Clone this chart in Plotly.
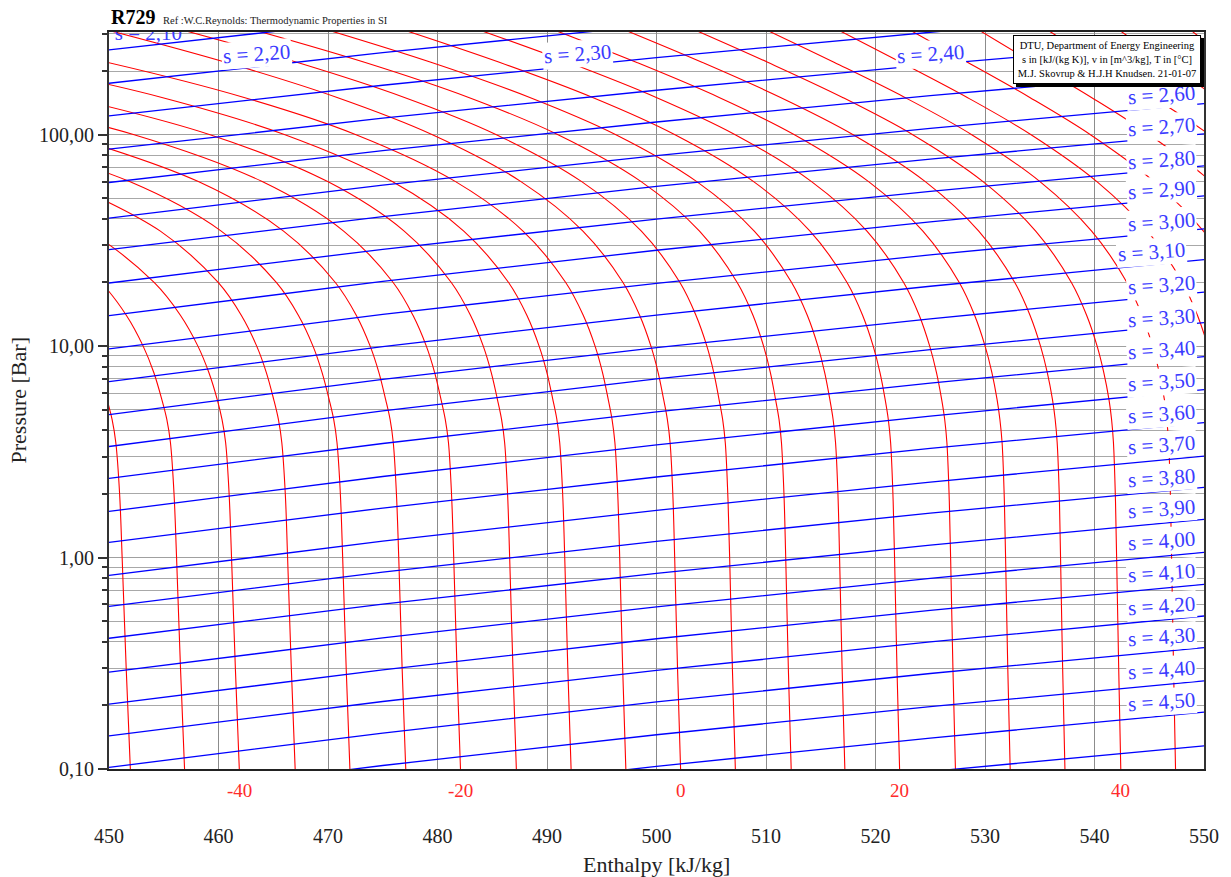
import math
import plotly.graph_objects as go

# ---------------- data ----------------
# Isotherms (red): enthalpy [kJ/kg] at each pressure level [bar]
P_levels = [0.1, 0.3, 1, 2, 3.5, 4.5, 5.6, 7.5, 10, 14, 20, 35, 60, 100, 150, 220, 320]
temps_C = [-50, -45, -40, -35, -30, -25, -20, -15, -10, -5, 0, 5, 10, 15,
           20, 25, 30, 35, 40, 45, 50, 55, 60, 65, 70, 75]
N = None
isotherm_h = [
    [451.95, 451.57, 451.20, 450.97, 450.62, 450.28, 449.81, 449.09, 448.14, N, N, N, N, N, N, N, N],
    [456.90, 456.53, 456.17, 455.94, 455.61, 455.28, 454.82, 454.09, 453.12, 451.58, 449.26, 443.47, N, N, N, N, N],
    [461.90, 461.54, 461.19, 460.97, 460.65, 460.32, 459.88, 459.12, 458.12, 456.52, 454.12, 448.12, 438.10, N, N, N, N],
    [467.00, 466.65, 466.31, 466.10, 465.78, 465.47, 465.04, 464.37, 463.49, 462.08, 459.97, 454.69, 445.89, N, N, N, N],
    [472.00, 471.66, 471.34, 471.13, 470.82, 470.52, 470.10, 469.46, 468.63, 467.29, 465.28, 460.25, 451.88, 438.48, N, N, N],
    [477.10, 476.77, 476.46, 476.25, 475.96, 475.67, 475.26, 474.65, 473.85, 472.58, 470.67, 465.94, 458.16, 445.97, N, N, N],
    [482.10, 481.78, 481.48, 481.28, 481.00, 480.71, 480.32, 479.74, 478.98, 477.76, 475.95, 471.43, 463.99, 452.30, 438.06, N, N],
    [487.20, 486.89, 486.59, 486.40, 486.13, 485.85, 485.47, 484.91, 484.18, 483.01, 481.26, 476.96, 469.97, 459.23, 446.52, N, N],
    [492.20, 491.90, 491.62, 491.43, 491.16, 490.90, 490.53, 489.99, 489.28, 488.16, 486.49, 482.40, 475.87, 466.07, 454.83, 440.73, N],
    [497.20, 496.91, 496.64, 496.46, 496.20, 495.94, 495.59, 495.07, 494.39, 493.31, 491.71, 487.81, 481.65, 472.56, 462.34, 449.83, 434.84],
    [502.20, 501.92, 501.66, 501.49, 501.24, 500.99, 500.65, 500.15, 499.49, 498.46, 496.94, 493.28, 487.62, 479.54, 470.83, 460.65, 449.11],
    [507.20, 506.93, 506.68, 506.51, 506.28, 506.04, 505.71, 505.23, 504.60, 503.60, 502.14, 498.62, 493.17, 485.38, 476.98, 467.15, 456.00],
    [512.30, 512.04, 511.80, 511.64, 511.41, 511.19, 510.87, 510.40, 509.78, 508.81, 507.37, 503.93, 498.60, 491.01, 482.85, 473.33, 462.58],
    [517.20, 516.95, 516.72, 516.57, 516.35, 516.13, 515.83, 515.36, 514.74, 513.77, 512.34, 508.93, 503.68, 496.29, 488.43, 479.40, 469.35],
    [522.20, 521.96, 521.74, 521.59, 521.38, 521.17, 520.88, 520.41, 519.79, 518.82, 517.40, 514.02, 508.87, 501.69, 494.17, 485.65, 476.35],
    [527.30, 527.07, 526.86, 526.72, 526.52, 526.32, 526.04, 525.57, 524.95, 523.99, 522.57, 519.22, 514.16, 507.19, 499.98, 491.94, 483.28],
    [532.30, 532.08, 531.88, 531.75, 531.56, 531.36, 531.10, 530.63, 530.01, 529.05, 527.65, 524.33, 519.37, 512.60, 505.72, 498.15, 490.15],
    [537.30, 537.09, 536.90, 536.78, 536.59, 536.41, 536.16, 535.69, 535.07, 534.11, 532.72, 529.43, 524.55, 517.96, 511.33, 504.15, 496.64],
    [542.40, 542.21, 542.02, 541.90, 541.73, 541.56, 541.32, 540.85, 540.24, 539.28, 537.89, 534.63, 529.82, 523.40, 517.00, 510.15, 503.07],
    [547.40, 547.22, 547.04, 546.93, 546.77, 546.60, 546.38, 545.91, 545.30, 544.34, 542.96, 539.74, 535.02, 528.79, 522.68, 516.21, 509.64],
    [552.40, 552.23, 552.06, 551.95, 551.80, 551.64, 551.43, 550.96, 550.35, 549.40, 548.02, 544.84, 540.22, 534.21, 528.38, 522.31, 516.23],
    [557.40, 557.24, 557.08, 556.98, 556.84, 556.69, 556.49, 556.02, 555.41, 554.46, 553.10, 549.95, 545.44, 539.63, 534.09, 528.40, 522.79],
    [562.40, 562.25, 562.10, 562.01, 561.87, 561.74, 561.55, 561.08, 560.47, 559.53, 558.17, 555.06, 550.64, 545.01, 539.72, 534.34, 529.11],
    [567.50, 567.36, 567.22, 567.14, 567.01, 566.88, 566.71, 566.24, 565.63, 564.69, 563.34, 560.27, 555.93, 550.48, 545.40, 540.32, 535.41],
    [572.50, 572.37, 572.24, 572.16, 572.05, 571.93, 571.77, 571.30, 570.69, 569.76, 568.42, 565.40, 561.17, 555.95, 551.17, 546.45, 541.97],
    [577.50, 577.38, 577.27, 577.19, 577.08, 576.98, 576.83, 576.36, 575.76, 574.83, 573.50, 570.53, 566.43, 561.44, 556.95, 552.59, 548.52],
]

# Isentropes (blue): pressure [bar] at each enthalpy level
h_levels = [450, 475, 500, 525, 550]
entropy_s = [2.10, 2.20, 2.30, 2.40, 2.50, 2.60, 2.70, 2.80, 2.90, 3.00, 3.10,
             3.20, 3.30, 3.40, 3.50, 3.60, 3.70, 3.80, 3.90, 4.00, 4.10, 4.20,
             4.30, 4.40, 4.50, 4.60]
isentrope_P = [
    [251.6, 351.3, 474.8, 625.8, 805.0],
    [175.1, 244.5, 330.6, 435.6, 560.8],
    [122.7, 171.3, 231.6, 305.2, 392.9],
    [85.4, 119.7, 162.3, 214.4, 276.5],
    [59.4, 84.0, 114.8, 152.9, 198.7],
    [40.3, 57.7, 79.7, 107.1, 140.4],
    [28.6, 41.0, 56.9, 76.7, 100.9],
    [19.89, 28.69, 39.9, 54.0, 71.2],
    [13.93, 20.26, 28.41, 38.73, 51.4],
    [9.70, 14.12, 19.82, 27.03, 35.89],
    [6.797, 9.95, 14.03, 19.20, 25.63],
    [4.747, 6.961, 9.83, 13.47, 17.99],
    [3.352, 4.936, 7.000, 9.636, 12.91],
    [2.366, 3.463, 4.883, 6.688, 8.921],
    [1.653, 2.418, 3.411, 4.670, 6.231],
    [1.180, 1.715, 2.405, 3.281, 4.351],
    [0.824, 1.195, 1.673, 2.276, 3.016],
    [0.5881, 0.8532, 1.193, 1.621, 2.146],
    [0.4152, 0.6024, 0.8423, 1.144, 1.515],
    [0.2870, 0.4171, 0.5851, 0.7977, 1.058],
    [0.2025, 0.2945, 0.4130, 0.5630, 0.7470],
    [0.1435, 0.2086, 0.2925, 0.3990, 0.5293],
    [0.1018, 0.1479, 0.2075, 0.2829, 0.3753],
    [0.07166, 0.1039, 0.1452, 0.1971, 0.2610],
    [0.05062, 0.07349, 0.1029, 0.1401, 0.1857],
    [0.03555, 0.05145, 0.07178, 0.09732, 0.1287],
]

# isentrope labels
right_label_s = [2.60, 2.70, 2.80, 2.90, 3.00, 3.10, 3.20, 3.30, 3.40, 3.50,
                 3.60, 3.70, 3.80, 3.90, 4.00, 4.10, 4.20, 4.30, 4.40, 4.50]
right_label_P = [154.2, 108.9, 76.0, 54.9, 38.73, 27.95, 19.52, 13.63, 9.627, 6.797,
                 4.799, 3.425, 2.366, 1.689, 1.193, 0.842, 0.588, 0.420, 0.2932, 0.2070]
right_label_h = [546.1, 546.1, 546.1, 546.1, 546.1, 545.2, 546.1, 546.1, 546.1, 546.1,
                 546.1, 546.1, 546.1, 546.1, 546.1, 546.1, 546.1, 546.1, 546.1, 546.1]
top_label_s = [2.20, 2.30, 2.40]
top_label_h = [463.45, 492.77, 525.05]
top_label_P = [240.9, 240.9, 240.9]
corner_label_s = [2.10]
corner_label_h = [453.6]
corner_label_P = [296.0]

# temperature labels under the axis
temp_label_T = [-40, -20, 0, 20, 40]

x_ticks = [450, 460, 470, 480, 490, 500, 510, 520, 530, 540, 550]
y_major = [0.1, 1, 10, 100]
y_major_text = ["0,10", "1,00", "10,00", "100,00"]
y_minor = [0.2, 0.3, 0.4, 0.5, 0.6, 0.7, 0.8, 0.9, 2, 3, 4, 5, 6, 7, 8, 9,
           20, 30, 40, 50, 60, 70, 80, 90, 200, 300]

# ---------------- figure ----------------
SERIF = "Liberation Serif, Times New Roman, serif"
RED = "#ff0000"
BLUE = "#0000ff"
LBLUE = "#3b3bff"

fig = go.Figure()
for T, row in zip(temps_C, isotherm_h):
    fig.add_trace(go.Scatter(x=row, y=P_levels, mode="lines",
                             line=dict(color=RED, width=1.1, shape="spline"),
                             hoverinfo="skip", showlegend=False))
for s, row in zip(entropy_s, isentrope_P):
    fig.add_trace(go.Scatter(x=h_levels, y=row, mode="lines",
                             line=dict(color=BLUE, width=1.3, shape="spline"),
                             hoverinfo="skip", showlegend=False))


def s_text(s):
    return ("s = %.2f" % s).replace(".", ",")


# corner label clipped by the plot frame
fig.add_trace(go.Scatter(x=corner_label_h, y=corner_label_P, mode="text",
                         text=[s_text(s) for s in corner_label_s],
                         textfont=dict(family=SERIF, size=21, color=LBLUE),
                         cliponaxis=True, hoverinfo="skip", showlegend=False))

ann = []
for s, h, p in zip(right_label_s, right_label_h, right_label_P):
    ann.append(dict(x=h, y=math.log10(p), xref="x", yref="y", text=s_text(s),
                    showarrow=False, font=dict(family=SERIF, size=21, color=LBLUE),
                    bgcolor="white", borderpad=1, textangle=-4))
for s, h, p in zip(top_label_s, top_label_h, top_label_P):
    ann.append(dict(x=h, y=math.log10(p), xref="x", yref="y", text=s_text(s),
                    showarrow=False, font=dict(family=SERIF, size=21, color=LBLUE),
                    bgcolor="white", borderpad=1, textangle=-4))

# temperature labels
for T in temp_label_T:
    h0 = isotherm_h[temps_C.index(T)][0]
    ann.append(dict(x=h0, y=0, xref="x", yref="paper", yshift=-21, text=str(T),
                    showarrow=False, font=dict(family=SERIF, size=19, color="#ff2a2a"),
                    yanchor="middle"))

# info box with a drop shadow
box_text = ("DTU, Department of Energy Engineering<br>"
            "s in [kJ/(kg K)], v in [m^3/kg], T in [°C]<br>"
            "M.J. Skovrup &amp; H.J.H Knudsen. 21-01-07")
ann.append(dict(x=0.9973, y=0.9953, xref="paper", yref="paper",
                xanchor="right", yanchor="top", text=" ", showarrow=False,
                width=184, height=45, bgcolor="black", bordercolor="black",
                borderwidth=1, borderpad=1, xshift=3, yshift=-3))
ann.append(dict(x=0.9973, y=0.9953, xref="paper", yref="paper",
                xanchor="right", yanchor="top", text=box_text, align="center",
                showarrow=False, width=184, height=45,
                font=dict(family=SERIF, size=10.5, color="black"),
                bgcolor="white", bordercolor="black", borderwidth=1, borderpad=1))

# titles
ann.append(dict(x=0, y=1, xref="paper", yref="paper", xanchor="left", yanchor="bottom",
                yshift=2, text="<b>R729</b>", showarrow=False,
                font=dict(family=SERIF, size=20, color="black")))
ann.append(dict(x=0, y=1, xref="paper", yref="paper", xanchor="left", yanchor="bottom",
                xshift=52, yshift=4, text="Ref :W.C.Reynolds: Thermodynamic Properties in SI",
                showarrow=False, font=dict(family=SERIF, size=10.5, color="#222")))
ann.append(dict(x=0.5, y=0, xref="paper", yref="paper", yanchor="middle", yshift=-95,
                text="Enthalpy [kJ/kg]", showarrow=False,
                font=dict(family=SERIF, size=22, color="#222")))
ann.append(dict(x=0, y=0.5, xref="paper", yref="paper", xanchor="center", xshift=-91,
                text="Pressure [Bar]", textangle=-90, showarrow=False,
                font=dict(family=SERIF, size=22, color="#222")))

fig.update_layout(
    width=1231, height=877, autosize=False,
    margin=dict(l=109, r=22, t=32, b=108),
    paper_bgcolor="white", plot_bgcolor="white",
    annotations=ann, showlegend=False,
    font=dict(family=SERIF, size=20, color="#222"),
)
fig.update_xaxes(range=[450, 550], tickmode="array", tickvals=x_ticks,
                 ticktext=[str(v) for v in x_ticks], ticks="",
                 showgrid=True, gridcolor="#8c8c8c", gridwidth=1,
                 showline=True, linecolor="#222", linewidth=2, mirror=True,
                 zeroline=False, ticklabelstandoff=48,
                 tickfont=dict(family=SERIF, size=20, color="#222"))
fig.update_yaxes(type="log", range=[-1, 2.4857], tickmode="array",
                 tickvals=y_major, ticktext=y_major_text,
                 ticks="outside", ticklen=9, tickwidth=1.5, tickcolor="#333",
                 showgrid=True, gridcolor="#a0a0a0", gridwidth=1,
                 showline=True, linecolor="#333", linewidth=2, mirror=True,
                 zeroline=False,
                 tickfont=dict(family=SERIF, size=20, color="#222"),
                 minor=dict(tickmode="array", tickvals=y_minor, ticks="outside",
                            ticklen=5, tickcolor="#333", showgrid=True,
                            gridcolor="#a8a8a8", gridwidth=1))

fig.write_html("out.html", config={"displayModeBar": False},
               post_script="document.body.style.margin='0';")
